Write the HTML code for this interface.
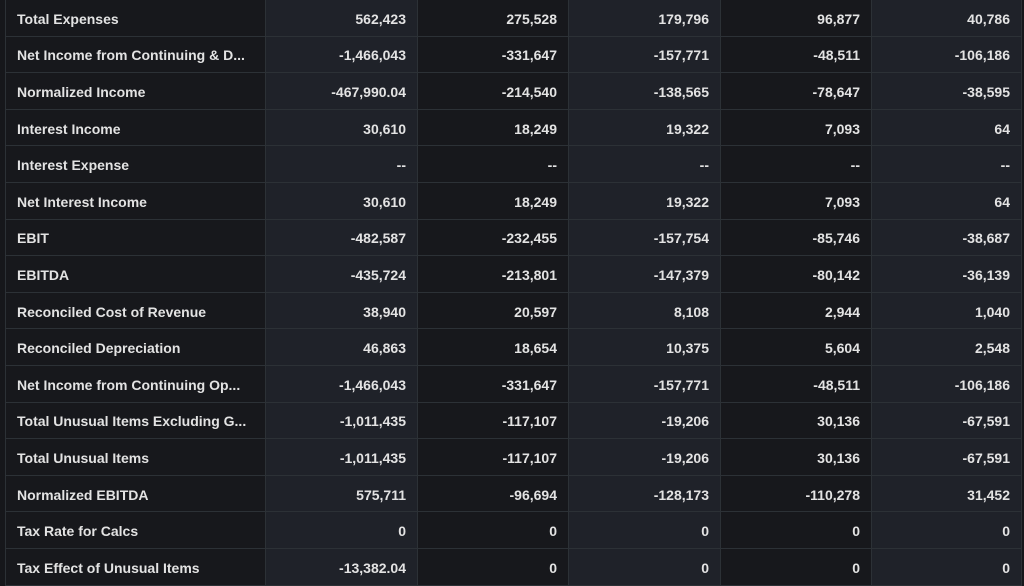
<!DOCTYPE html>
<html><head><style>
html,body{margin:0;padding:0;background:#16171b;width:1024px;height:584px;overflow:hidden}
table{position:absolute;left:5px;top:0;border-collapse:collapse;table-layout:fixed;font-family:"Liberation Sans",sans-serif;font-size:14px;font-weight:bold;color:#e3e3e3}
td{height:33.6px;padding:2px 11px 0 11px;border:1px solid #2c3136;border-top:none;white-space:nowrap;overflow:hidden;text-align:right;background:#17181c}
td:first-child{text-align:left;padding-left:11px}
td:nth-child(2),td:nth-child(4),td:nth-child(6){background:#1f2229}
</style></head><body>
<table>
<colgroup><col style="width:260px"><col style="width:152px"><col style="width:151px"><col style="width:152px"><col style="width:151px"><col style="width:150px"></colgroup>
<tr><td>Total Expenses</td><td>562,423</td><td>275,528</td><td>179,796</td><td>96,877</td><td>40,786</td></tr>
<tr><td>Net Income from Continuing &amp; D...</td><td>-1,466,043</td><td>-331,647</td><td>-157,771</td><td>-48,511</td><td>-106,186</td></tr>
<tr><td>Normalized Income</td><td>-467,990.04</td><td>-214,540</td><td>-138,565</td><td>-78,647</td><td>-38,595</td></tr>
<tr><td>Interest Income</td><td>30,610</td><td>18,249</td><td>19,322</td><td>7,093</td><td>64</td></tr>
<tr><td>Interest Expense</td><td>--</td><td>--</td><td>--</td><td>--</td><td>--</td></tr>
<tr><td>Net Interest Income</td><td>30,610</td><td>18,249</td><td>19,322</td><td>7,093</td><td>64</td></tr>
<tr><td>EBIT</td><td>-482,587</td><td>-232,455</td><td>-157,754</td><td>-85,746</td><td>-38,687</td></tr>
<tr><td>EBITDA</td><td>-435,724</td><td>-213,801</td><td>-147,379</td><td>-80,142</td><td>-36,139</td></tr>
<tr><td>Reconciled Cost of Revenue</td><td>38,940</td><td>20,597</td><td>8,108</td><td>2,944</td><td>1,040</td></tr>
<tr><td>Reconciled Depreciation</td><td>46,863</td><td>18,654</td><td>10,375</td><td>5,604</td><td>2,548</td></tr>
<tr><td>Net Income from Continuing Op...</td><td>-1,466,043</td><td>-331,647</td><td>-157,771</td><td>-48,511</td><td>-106,186</td></tr>
<tr><td>Total Unusual Items Excluding G...</td><td>-1,011,435</td><td>-117,107</td><td>-19,206</td><td>30,136</td><td>-67,591</td></tr>
<tr><td>Total Unusual Items</td><td>-1,011,435</td><td>-117,107</td><td>-19,206</td><td>30,136</td><td>-67,591</td></tr>
<tr><td>Normalized EBITDA</td><td>575,711</td><td>-96,694</td><td>-128,173</td><td>-110,278</td><td>31,452</td></tr>
<tr><td>Tax Rate for Calcs</td><td>0</td><td>0</td><td>0</td><td>0</td><td>0</td></tr>
<tr><td>Tax Effect of Unusual Items</td><td>-13,382.04</td><td>0</td><td>0</td><td>0</td><td>0</td></tr>
</table>
</body></html>
